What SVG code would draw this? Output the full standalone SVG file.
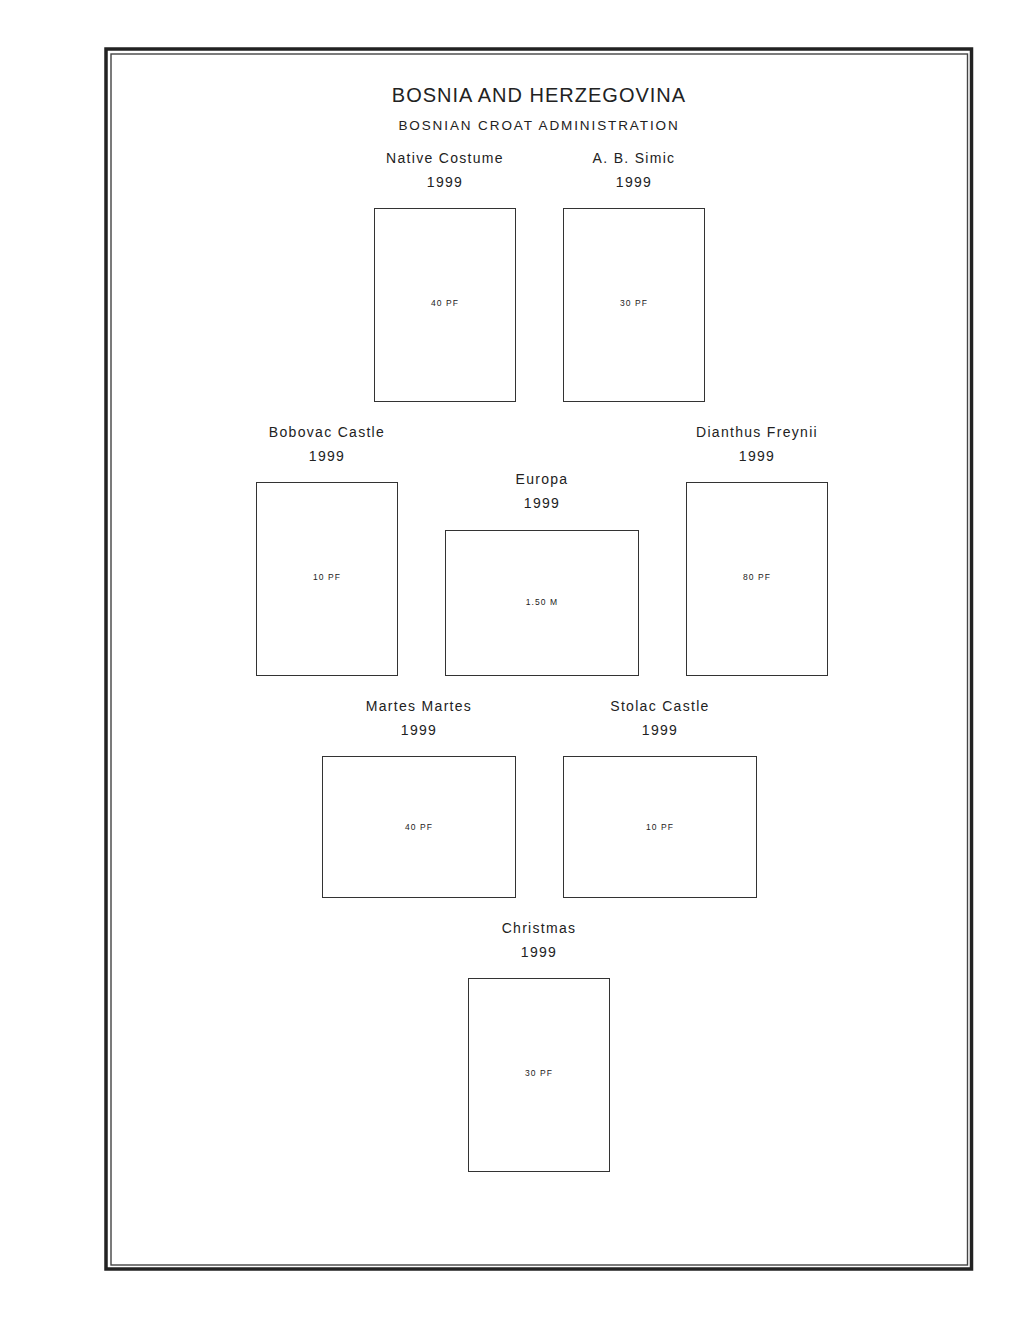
<svg xmlns="http://www.w3.org/2000/svg" width="1020" height="1320" viewBox="0 0 1020 1320">
<style>
text{font-family:"Liberation Sans",Arial,sans-serif;fill:#222;text-anchor:middle}
.t{font-size:20px;letter-spacing:1px}
.s{font-size:13.5px;letter-spacing:1.9px}
.l{font-size:14px;letter-spacing:1.3px}
.v{font-size:8.5px;letter-spacing:1.1px}
.b{fill:#fff;stroke:#333;stroke-width:1}
</style>
<rect width="1020" height="1320" fill="#fff"/>
<g id="frame">
<rect x="106" y="49" width="865.5" height="1220" fill="none" stroke="#222" stroke-width="3.5"/>
<rect x="111" y="54" width="856.5" height="1211" fill="none" stroke="#444" stroke-width="1.4"/>
</g>
<g id="header">
<text class="t" x="539" y="102">BOSNIA AND HERZEGOVINA</text>
<text class="s" x="539" y="130">BOSNIAN CROAT ADMINISTRATION</text>
</g>
<g id="native-costume">
<text class="l" x="445" y="163">Native Costume</text>
<text class="l" x="445" y="187">1999</text>
<rect class="b" x="374.5" y="208.5" width="141" height="193"/>
<text class="v" x="445" y="306">40 PF</text>
</g>
<g id="ab-simic">
<text class="l" x="634" y="163">A. B. Simic</text>
<text class="l" x="634" y="187">1999</text>
<rect class="b" x="563.5" y="208.5" width="141" height="193"/>
<text class="v" x="634" y="306">30 PF</text>
</g>
<g id="bobovac-castle">
<text class="l" x="327" y="437">Bobovac Castle</text>
<text class="l" x="327" y="461">1999</text>
<rect class="b" x="256.5" y="482.5" width="141" height="193"/>
<text class="v" x="327" y="580">10 PF</text>
</g>
<g id="europa">
<text class="l" x="542" y="484">Europa</text>
<text class="l" x="542" y="508">1999</text>
<rect class="b" x="445.5" y="530.5" width="193" height="145"/>
<text class="v" x="542" y="605">1.50 M</text>
</g>
<g id="dianthus-freynii">
<text class="l" x="757" y="437">Dianthus Freynii</text>
<text class="l" x="757" y="461">1999</text>
<rect class="b" x="686.5" y="482.5" width="141" height="193"/>
<text class="v" x="757" y="580">80 PF</text>
</g>
<g id="martes-martes">
<text class="l" x="419" y="711">Martes Martes</text>
<text class="l" x="419" y="735">1999</text>
<rect class="b" x="322.5" y="756.5" width="193" height="141"/>
<text class="v" x="419" y="830">40 PF</text>
</g>
<g id="stolac-castle">
<text class="l" x="660" y="711">Stolac Castle</text>
<text class="l" x="660" y="735">1999</text>
<rect class="b" x="563.5" y="756.5" width="193" height="141"/>
<text class="v" x="660" y="830">10 PF</text>
</g>
<g id="christmas">
<text class="l" x="539" y="933">Christmas</text>
<text class="l" x="539" y="957">1999</text>
<rect class="b" x="468.5" y="978.5" width="141" height="193"/>
<text class="v" x="539" y="1076">30 PF</text>
</g>
<g id="connectors"></g>
</svg>
